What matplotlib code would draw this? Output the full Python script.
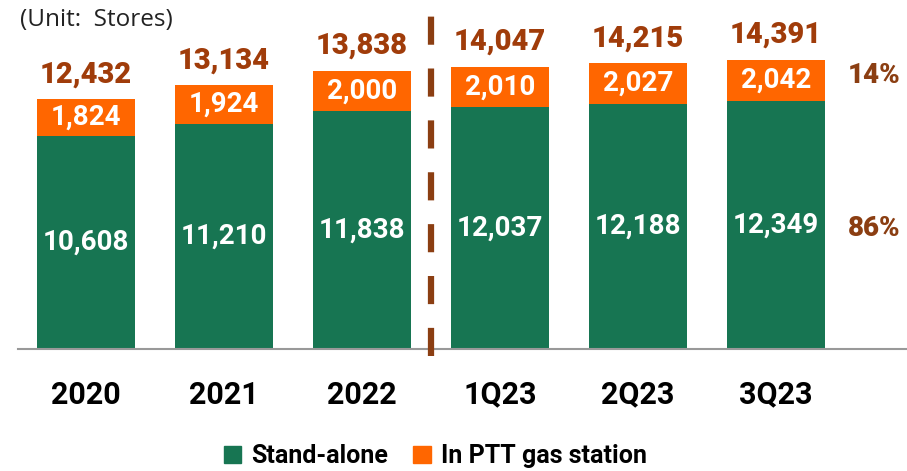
import matplotlib
matplotlib.use("Agg")
import matplotlib.pyplot as plt
from matplotlib.patches import Patch

categories = ["2020", "2021", "2022", "1Q23", "2Q23", "3Q23"]
stand_alone = [10608, 11210, 11838, 12037, 12188, 12349]
in_ptt = [1824, 1924, 2000, 2010, 2027, 2042]
totals = [12432, 13134, 13838, 14047, 14215, 14391]

GREEN = "#177552"
ORANGE = "#FF6600"
BROWN = "#A03C0A"
PCT_BROWN = "#8B3E12"

W, H = 907, 471
fig = plt.figure(figsize=(W / 100, H / 100), dpi=100)
ax = fig.add_axes([18 / W, 122 / H, (W - 18) / W, 349 / H])

x = list(range(len(categories)))
ax.bar(x, stand_alone, width=0.71, color=GREEN, zorder=2)
ax.bar(x, in_ptt, width=0.71, bottom=stand_alone, color=ORANGE, zorder=2)

ax.set_xlim(-0.493, 5.95)
ax.set_ylim(0, 17355)

for i in x:
    ax.text(i, stand_alone[i] / 2, f"{stand_alone[i]:,}", ha="center", va="center",
            color="white", fontsize=20, fontweight="bold", family="Roboto", zorder=3)
    ax.text(i, stand_alone[i] + in_ptt[i] / 2, f"{in_ptt[i]:,}", ha="center", va="center",
            color="white", fontsize=20, fontweight="bold", family="Roboto", zorder=3)
    ax.annotate(f"{totals[i]:,}", (i, totals[i]), xytext=(0, 12), textcoords="offset points",
                ha="center", va="baseline", color=BROWN, fontsize=21, fontweight="black",
                family="Roboto")

# percentages for the last period
last = len(categories) - 1
p_ptt = round(100 * in_ptt[last] / totals[last])
p_sa = 100 - p_ptt
ax.text(5.71, 13625, f"{p_ptt}%", ha="center", va="center", color=PCT_BROWN,
        fontsize=20, fontweight="black", family="Roboto")
ax.text(5.71, 6017, f"{p_sa}%", ha="center", va="center", color=PCT_BROWN,
        fontsize=20, fontweight="black", family="Roboto")

# dashed separator
ax.plot([2.5, 2.5], [-350, 17355], color="#8B3E12", lw=4.5, ls=(0, (4.5, 3.8)),
        clip_on=False, zorder=4)

for s in ["top", "right", "left"]:
    ax.spines[s].set_visible(False)
ax.spines["bottom"].set_color("#999999")
ax.spines["bottom"].set_linewidth(1.5)
ax.set_yticks([])
ax.set_xticks(x)
ax.set_xticklabels(categories, fontsize=22, fontweight="bold", family="Roboto")
ax.tick_params(axis="x", length=0, pad=22)

fig.text(20 / W, 1 - 20 / H, "(Unit:  Stores)", ha="left", va="center",
         fontsize=17.5, family="Open Sans", color="#222222")

handles = [Patch(color=GREEN), Patch(color=ORANGE)]
fig.legend(handles, ["Stand-alone", "In PTT gas station"], loc="center",
           bbox_to_anchor=(0.48, 15 / H), ncol=2, frameon=False,
           prop={"family": "Roboto", "weight": "bold", "size": 18},
           handlelength=0.7, handleheight=0.7, handletextpad=0.4, columnspacing=1.0)

fig.savefig("out.png", dpi=100)
